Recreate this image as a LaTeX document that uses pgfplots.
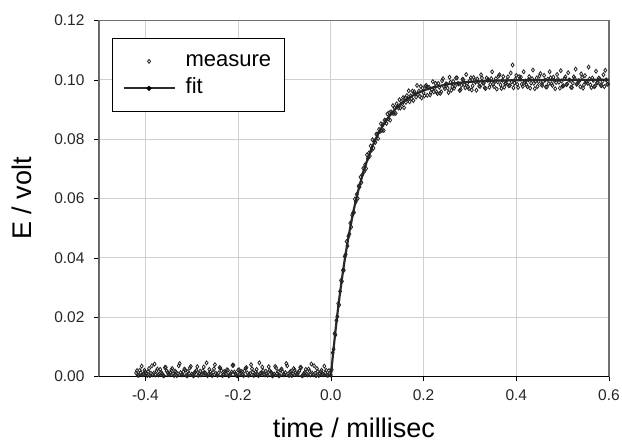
\documentclass[border=0pt]{standalone}
\usepackage{fontspec}
\setmainfont{Liberation Sans}
\usepackage{pgfplots}
\pgfplotsset{compat=1.18}
\definecolor{gridc}{HTML}{D0D0D0}
\definecolor{boxc}{HTML}{707070}
\definecolor{markc}{HTML}{222222}
\definecolor{fitc}{HTML}{2A2A2A}
\pgfplotsset{
  measureleg/.style={legend image code/.code={\draw[##1] plot coordinates {(25.5pt,0pt)};}},
  fitleg/.style={legend image code/.code={\draw[##1] (0pt,0pt) -- (51pt,0pt); \fill[black] (25.5pt,0pt) circle (1.2pt);}},
}
\begin{document}
\begin{tikzpicture}
\path[use as bounding box] (-99pt,-70.5pt) rectangle (523pt,376.5pt);
\begin{axis}[
  at={(0pt,0pt)}, anchor=south west,
  scale only axis, width=510pt, height=356pt,
  xmin=-0.5, xmax=0.6, ymin=0, ymax=0.12,
  xtick={-0.4,-0.2,0,0.2,0.4,0.6},
  ytick={0,0.02,0.04,0.06,0.08,0.1,0.12},
  xtick pos=bottom, ytick pos=left,
  tick align=outside, major tick length=5pt,
  tick style={black, line width=0.6pt},
  grid=major, major grid style={gridc, line width=0.7pt},
  axis line style={boxc, line width=1.2pt},
  /pgf/number format/assume math mode=true,
  scaled y ticks=false, scaled x ticks=false,
  ticklabel style={font=\fontsize{15.5}{18}\selectfont, text=black!85},
  xticklabel style={/pgf/number format/fixed, /pgf/number format/fixed zerofill, /pgf/number format/precision=1, yshift=-5pt},
  yticklabel style={/pgf/number format/fixed, /pgf/number format/fixed zerofill, /pgf/number format/precision=2, xshift=-6pt},
  xlabel={time / millisec},
  ylabel={E / volt},
  xlabel style={at={(axis description cs:0.5,-0.1727)}, anchor=base, font=\fontsize{27}{31}\selectfont},
  ylabel style={at={(axis description cs:-0.151,0.5)}, anchor=center, font=\fontsize{27}{31}\selectfont},
  legend style={at={(rel axis cs:0.0255,0.951)}, anchor=north west, draw=black, line width=0.9pt,
    font=\fontsize{22}{26}\selectfont, inner xsep=10pt, inner ysep=9.5pt, row sep=0pt,
    nodes={inner xsep=3pt, inner ysep=3pt, text height=16pt, text depth=5pt},
    /tikz/every odd column/.append style={column sep=7pt}},
  legend cell align=left,
]
\addplot[only marks, mark=diamond, mark size=2pt, mark options={draw=markc, fill=white, line width=0.8pt}, measureleg]
coordinates {
(-0.420,0.0012) (-0.416,0.0004) (-0.412,0.0021) (-0.408,0.0035) (-0.404,0.0008)
(-0.400,0.0016) (-0.396,0.0003) (-0.392,0.0027) (-0.388,0.0011) (-0.384,0.0006)
(-0.380,0.0042) (-0.376,0.0019) (-0.372,0.0005) (-0.368,0.0024) (-0.364,0.0010)
(-0.360,0.0002) (-0.356,0.0031) (-0.352,0.0014) (-0.348,0.0007) (-0.344,0.0022)
(-0.340,0.0009) (-0.336,0.0018) (-0.332,0.0003) (-0.328,0.0036) (-0.324,0.0013)
(-0.320,0.0006) (-0.316,0.0025) (-0.312,0.0004) (-0.308,0.0017) (-0.304,0.0029)
(-0.300,0.0008) (-0.296,0.0002) (-0.292,0.0015) (-0.288,0.0033) (-0.284,0.0010)
(-0.280,0.0005) (-0.276,0.0020) (-0.272,0.0012) (-0.268,0.0046) (-0.264,0.0007)
(-0.260,0.0016) (-0.256,0.0003) (-0.252,0.0026) (-0.248,0.0011) (-0.244,0.0004)
(-0.240,0.0030) (-0.236,0.0019) (-0.232,0.0006) (-0.228,0.0013) (-0.224,0.0023)
(-0.220,0.0002) (-0.216,0.0010) (-0.212,0.0038) (-0.208,0.0015) (-0.204,0.0005)
(-0.200,0.0021) (-0.196,0.0009) (-0.192,0.0017) (-0.188,0.0003) (-0.184,0.0028)
(-0.180,0.0012) (-0.176,0.0006) (-0.172,0.0040) (-0.168,0.0014) (-0.164,0.0008)
(-0.160,0.0024) (-0.156,0.0003) (-0.152,0.0011) (-0.148,0.0032) (-0.144,0.0007)
(-0.140,0.0018) (-0.136,0.0004) (-0.132,0.0020) (-0.128,0.0013) (-0.124,0.0005)
(-0.120,0.0034) (-0.116,0.0010) (-0.112,0.0002) (-0.108,0.0022) (-0.104,0.0016)
(-0.100,0.0006) (-0.096,0.0044) (-0.092,0.0009) (-0.088,0.0015) (-0.084,0.0003)
(-0.080,0.0027) (-0.076,0.0012) (-0.072,0.0007) (-0.068,0.0019) (-0.064,0.0030)
(-0.060,0.0004) (-0.056,0.0014) (-0.052,0.0008) (-0.048,0.0025) (-0.044,0.0005)
(-0.040,0.0011) (-0.036,0.0036) (-0.032,0.0003) (-0.028,0.0017) (-0.024,0.0009)
(-0.020,0.0021) (-0.016,0.0006) (-0.012,0.0013) (-0.008,0.0004) (-0.004,0.0020)
(-0.418,0.0020) (-0.414,0.0004) (-0.410,0.0013) (-0.406,0.0006) (-0.402,0.0021)
(-0.398,0.0009) (-0.394,0.0017) (-0.390,0.0003) (-0.386,0.0036) (-0.382,0.0011)
(-0.378,0.0005) (-0.374,0.0025) (-0.370,0.0008) (-0.366,0.0014) (-0.362,0.0004)
(-0.358,0.0030) (-0.354,0.0019) (-0.350,0.0007) (-0.346,0.0012) (-0.342,0.0027)
(-0.338,0.0003) (-0.334,0.0015) (-0.330,0.0009) (-0.326,0.0044) (-0.322,0.0006)
(-0.318,0.0016) (-0.314,0.0022) (-0.310,0.0002) (-0.306,0.0010) (-0.302,0.0034)
(-0.298,0.0005) (-0.294,0.0013) (-0.290,0.0020) (-0.286,0.0004) (-0.282,0.0018)
(-0.278,0.0007) (-0.274,0.0032) (-0.270,0.0011) (-0.266,0.0003) (-0.262,0.0024)
(-0.258,0.0008) (-0.254,0.0014) (-0.250,0.0040) (-0.246,0.0006) (-0.242,0.0012)
(-0.238,0.0028) (-0.234,0.0003) (-0.230,0.0017) (-0.226,0.0009) (-0.222,0.0021)
(-0.218,0.0005) (-0.214,0.0015) (-0.210,0.0038) (-0.206,0.0010) (-0.202,0.0002)
(-0.198,0.0023) (-0.194,0.0013) (-0.190,0.0006) (-0.186,0.0019) (-0.182,0.0030)
(-0.178,0.0004) (-0.174,0.0011) (-0.170,0.0026) (-0.166,0.0003) (-0.162,0.0016)
(-0.158,0.0007) (-0.154,0.0046) (-0.150,0.0012) (-0.146,0.0020) (-0.142,0.0005)
(-0.138,0.0010) (-0.134,0.0033) (-0.130,0.0015) (-0.126,0.0002) (-0.122,0.0008)
(-0.118,0.0029) (-0.114,0.0017) (-0.110,0.0004) (-0.106,0.0025) (-0.102,0.0006)
(-0.098,0.0013) (-0.094,0.0036) (-0.090,0.0003) (-0.086,0.0018) (-0.082,0.0009)
(-0.078,0.0022) (-0.074,0.0007) (-0.070,0.0014) (-0.066,0.0031) (-0.062,0.0002)
(-0.058,0.0010) (-0.054,0.0024) (-0.050,0.0005) (-0.046,0.0019) (-0.042,0.0042)
(-0.038,0.0006) (-0.034,0.0011) (-0.030,0.0027) (-0.026,0.0003) (-0.022,0.0016)
(-0.018,0.0008) (-0.014,0.0035) (-0.010,0.0021) (-0.006,0.0004) (-0.002,0.0012)
(0.000,0.0005) (0.002,0.0023) (0.004,0.0080) (0.006,0.0092) (0.008,0.0145)
(0.010,0.0140) (0.012,0.0189) (0.014,0.0202) (0.016,0.0246) (0.018,0.0241)
(0.020,0.0287) (0.022,0.0324) (0.024,0.0321) (0.026,0.0358) (0.028,0.0358)
(0.030,0.0405) (0.032,0.0411) (0.034,0.0455) (0.036,0.0440) (0.038,0.0473)
(0.040,0.0480) (0.042,0.0517) (0.044,0.0504) (0.046,0.0544) (0.048,0.0552)
(0.050,0.0553) (0.052,0.0598) (0.054,0.0589) (0.056,0.0614) (0.058,0.0600)
(0.060,0.0642) (0.062,0.0639) (0.064,0.0672) (0.066,0.0654) (0.068,0.0680)
(0.070,0.0702) (0.072,0.0691) (0.074,0.0714) (0.076,0.0701) (0.078,0.0747)
(0.080,0.0735) (0.082,0.0753) (0.084,0.0743) (0.086,0.0777) (0.088,0.0763)
(0.090,0.0798) (0.092,0.0770) (0.094,0.0794) (0.096,0.0789) (0.098,0.0817)
(0.100,0.0817) (0.102,0.0802) (0.104,0.0833) (0.106,0.0826) (0.108,0.0852)
(0.110,0.0829) (0.112,0.0849) (0.114,0.0829) (0.116,0.0864) (0.118,0.0862)
(0.120,0.0853) (0.122,0.0885) (0.124,0.0868) (0.126,0.0889) (0.128,0.0864)
(0.130,0.0892) (0.132,0.0887) (0.134,0.0913) (0.136,0.0886) (0.138,0.0905)
(0.140,0.0887) (0.142,0.0919) (0.144,0.0910) (0.146,0.0905) (0.148,0.0933)
(0.150,0.0905) (0.152,0.0927) (0.154,0.0919) (0.156,0.0940) (0.158,0.0906)
(0.160,0.0939) (0.162,0.0924) (0.164,0.0947) (0.166,0.0936) (0.168,0.0963)
(0.170,0.0926) (0.172,0.0946) (0.174,0.0937) (0.176,0.0962) (0.178,0.0930)
(0.180,0.0960) (0.182,0.0954) (0.184,0.0942) (0.186,0.0981) (0.188,0.0950)
(0.190,0.0962) (0.192,0.0945) (0.194,0.0978) (0.196,0.0939) (0.198,0.0972)
(0.200,0.0956) (0.204,0.0979) (0.208,0.0948) (0.212,0.0975) (0.216,0.0958)
(0.220,0.0994) (0.224,0.0973) (0.228,0.0959) (0.232,0.0988) (0.236,0.0954)
(0.240,0.0997) (0.244,0.0977) (0.248,0.0986) (0.252,0.0972) (0.256,0.1009)
(0.260,0.0965) (0.264,0.0995) (0.268,0.0979) (0.272,0.1007) (0.276,0.0986)
(0.280,0.0967) (0.284,0.1002) (0.288,0.0983) (0.292,0.1018) (0.296,0.0976)
(0.300,0.0998) (0.304,0.0966) (0.308,0.1008) (0.312,0.0992) (0.316,0.1003)
(0.320,0.0979) (0.324,0.1017) (0.328,0.0989) (0.332,0.0973) (0.336,0.1006)
(0.340,0.1000) (0.344,0.0985) (0.348,0.1027) (0.352,0.0977) (0.356,0.1004)
(0.360,0.0993) (0.364,0.1017) (0.368,0.0971) (0.372,0.1011) (0.376,0.0987)
(0.380,0.0999) (0.384,0.0980) (0.388,0.1023) (0.392,0.1050) (0.396,0.0989)
(0.400,0.1015) (0.404,0.0974) (0.408,0.1003) (0.412,0.0985) (0.416,0.1027)
(0.420,0.0996) (0.424,0.0977) (0.428,0.1011) (0.432,0.0989) (0.436,0.1033)
(0.440,0.0970) (0.444,0.1006) (0.448,0.0994) (0.452,0.1021) (0.456,0.0981)
(0.460,0.1015) (0.464,0.0976) (0.468,0.1002) (0.472,0.1027) (0.476,0.0987)
(0.480,0.1009) (0.484,0.0970) (0.488,0.1018) (0.492,0.0992) (0.496,0.1031)
(0.500,0.0979) (0.504,0.1005) (0.508,0.0984) (0.512,0.1024) (0.516,0.0998)
(0.520,0.0974) (0.524,0.1010) (0.528,0.1036) (0.532,0.0988) (0.536,0.0996)
(0.540,0.1020) (0.544,0.0972) (0.548,0.1014) (0.552,0.0993) (0.556,0.1043)
(0.560,0.0983) (0.564,0.1006) (0.568,0.0977) (0.572,0.1029) (0.576,0.0990)
(0.580,0.1003) (0.584,0.0980) (0.588,0.1017) (0.592,0.1032) (0.596,0.0985)
(0.202,0.0946) (0.206,0.0981) (0.210,0.0973) (0.214,0.0949) (0.218,0.0967)
(0.222,0.0959) (0.226,0.0988) (0.230,0.0954) (0.234,0.0975) (0.238,0.0960)
(0.242,0.1004) (0.246,0.0970) (0.250,0.0986) (0.254,0.0957) (0.258,0.0992)
(0.262,0.0976) (0.266,0.0972) (0.270,0.1006) (0.274,0.0988) (0.278,0.0964)
(0.282,0.0982) (0.286,0.1000) (0.290,0.0973) (0.294,0.0988) (0.298,0.0970)
(0.302,0.1007) (0.306,0.0980) (0.310,0.0999) (0.314,0.0965) (0.318,0.0993)
(0.322,0.0978) (0.326,0.1006) (0.330,0.0989) (0.334,0.0971) (0.338,0.0999)
(0.342,0.0975) (0.346,0.1004) (0.350,0.0985) (0.354,0.0994) (0.358,0.0969)
(0.362,0.1013) (0.366,0.0983) (0.370,0.0998) (0.374,0.0975) (0.378,0.0988)
(0.382,0.1010) (0.386,0.0981) (0.390,0.0993) (0.394,0.0973) (0.398,0.1002)
(0.402,0.0985) (0.406,0.1011) (0.410,0.1009) (0.414,0.0978) (0.418,0.0992)
(0.422,0.0983) (0.426,0.1000) (0.430,0.0972) (0.434,0.1004) (0.438,0.0988)
(0.442,0.0996) (0.446,0.0978) (0.450,0.1013) (0.454,0.0984) (0.458,0.0994)
(0.462,0.0999) (0.466,0.0976) (0.470,0.0987) (0.474,0.1007) (0.478,0.0981)
(0.482,0.0998) (0.486,0.0991) (0.490,0.1002) (0.494,0.0972) (0.498,0.0996)
(0.502,0.0980) (0.506,0.1010) (0.510,0.0986) (0.514,0.1000) (0.518,0.0975)
(0.522,0.0989) (0.526,0.1005) (0.530,0.0985) (0.534,0.0997) (0.538,0.0977)
(0.542,0.1008) (0.546,0.0983) (0.550,0.0993) (0.554,0.0988) (0.558,0.1003)
(0.562,0.0974) (0.566,0.0998) (0.570,0.0979) (0.574,0.0990) (0.578,0.1006)
(0.582,0.0982) (0.586,0.0995) (0.590,0.0977) (0.594,0.1000) (0.598,0.0986)
};
\addlegendentry{measure}
\addplot[fitc, line width=2.2pt, mark=none, fitleg]
coordinates {
(-0.42,0) (0.000,0) (0.005,0.00800) (0.010,0.01535) (0.015,0.02212) (0.020,0.02835)
(0.025,0.03408) (0.030,0.03935) (0.035,0.04420) (0.040,0.04866) (0.045,0.05276)
(0.050,0.05654) (0.055,0.06002) (0.060,0.06321) (0.070,0.06886) (0.080,0.07364)
(0.090,0.07769) (0.100,0.08111) (0.110,0.08401) (0.120,0.08647) (0.130,0.08854)
(0.140,0.09030) (0.150,0.09179) (0.160,0.09305) (0.180,0.09502) (0.200,0.09643)
(0.220,0.09744) (0.250,0.09845) (0.280,0.09906) (0.300,0.09933) (0.350,0.09971)
(0.400,0.09987) (0.450,0.09994) (0.500,0.09998) (0.600,0.10000)
};
\addlegendentry{fit}
\draw[black, line width=1pt] (rel axis cs:0,1) -- (rel axis cs:0,0) -- (rel axis cs:1,0);
\end{axis}
\end{tikzpicture}
\end{document}
